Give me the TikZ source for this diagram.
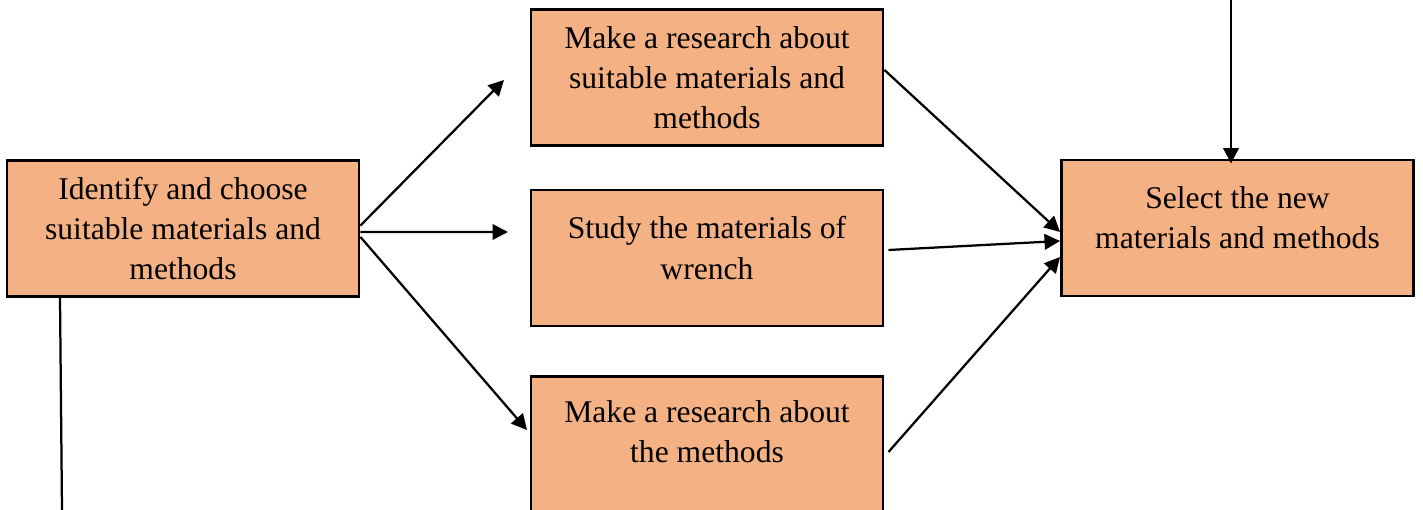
\documentclass[tikz,border=0pt]{standalone}
\usepackage{fontspec}
\setmainfont{Liberation Serif}
\usetikzlibrary{arrows.meta}
\definecolor{boxorange}{RGB}{244,177,131}
\tikzset{flowbox/.style={% orange step boxes
    draw=black,
    line width=0.05cm,
    fill=boxorange,
    minimum width=7.05cm,
    minimum height=2.73cm,
    inner sep=0pt
  },
  boxtext/.style={
    align=center,
    font=\fontsize{18}{22.8}\selectfont
  },
  flow/.style={
    line width=0.045cm,
    -{Triangle[length=0.31cm,width=0.31cm]}
  }
}

\begin{document}
\begin{tikzpicture}[x=0.02cm,y=-0.02cm]
  \useasboundingbox (0,0) rectangle (1423,510);
  % boxes
  \node[flowbox] (identify) at (183,228.5) {};
  \node[boxtext] (identify-t) at (identify.center) {Identify and choose\\suitable materials and\\methods};
  \node[flowbox] (suitable) at (707,77.5) {};
  \node[boxtext] (suitable-t) at (suitable.center) {Make a research about\\suitable materials and\\methods};
  \node[flowbox] (study) at (707,258) {};
  \node[boxtext] (study-t) at ([yshift=0.2cm]study.center) {Study the materials of\\wrench};
  \node[flowbox] (methods) at (707,444.5) {};
  \node[boxtext] (methods-t) at ([yshift=0.25cm]methods.center) {Make a research about\\the methods};
  \node[flowbox] (select) at (1237.5,228) {};
  \node[boxtext] (select-t) at ([yshift=0.2cm]select.center) {Select the new\\materials and methods};
  % free ends
  \coordinate (tip1) at (504,80);
  \coordinate (tip2) at (508,232);
  \coordinate (tip3) at (527,430);
  \coordinate (top) at (1231,0);
  \coordinate (bottom) at (62,510);
  % connectors
  \draw[flow] ([yshift=0.06cm]identify.east) -- (tip1);
  \draw[flow] ([yshift=-0.07cm]identify.east) -- (tip2);
  \draw[flow] ([yshift=-0.17cm]identify.east) -- (tip3);
  \draw[flow] ([yshift=0.15cm]suitable.east) -- ([yshift=-0.08cm]select.west);
  \draw[flow] ([xshift=0.08cm,yshift=0.16cm]study.east) -- ([yshift=-0.26cm]select.west);
  \draw[flow] ([xshift=0.08cm,yshift=-0.15cm]methods.east) -- ([yshift=-0.58cm]select.west);
  \draw[flow] (top) -- ([yshift=-0.1cm]top |- select.north);
  \draw[line width=0.045cm] (identify.south -| 60,0) -- (bottom);
\end{tikzpicture}
\end{document}
